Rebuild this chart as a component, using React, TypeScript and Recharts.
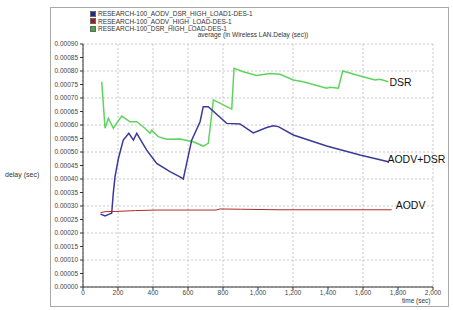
import React from 'react';
import { LineChart, Line, XAxis, YAxis, CartesianGrid, LabelList } from 'recharts';

// DSR (green)
const dsrTime = [107, 126, 145, 173, 221, 269, 307, 354, 383, 393, 430, 478, 554, 630, 687, 716, 745, 850, 863, 916, 992, 1069, 1126, 1202, 1259, 1392, 1411, 1459, 1484, 1564, 1669, 1697, 1745];
const dsrDelay = [0.00076, 0.000588, 0.000625, 0.000588, 0.000633, 0.000612, 0.000612, 0.000588, 0.000569, 0.000581, 0.000557, 0.000547, 0.000548, 0.000538, 0.000522, 0.000532, 0.000693, 0.000659, 0.00081, 0.000797, 0.000783, 0.000791, 0.000788, 0.000767, 0.00076, 0.000736, 0.00074, 0.000736, 0.0008, 0.000785, 0.000767, 0.000769, 0.00076];

// AODV+DSR (blue)
const mixTime = [100, 126, 150, 164, 173, 183, 202, 230, 262, 288, 307, 364, 421, 497, 554, 573, 621, 669, 687, 716, 821, 897, 973, 1050, 1087, 1116, 1202, 1392, 1583, 1745];
const mixDelay = [0.00027, 0.000263, 0.00027, 0.000273, 0.000347, 0.000409, 0.000475, 0.000544, 0.000569, 0.000544, 0.000569, 0.000507, 0.000458, 0.000427, 0.000408, 0.0004, 0.000544, 0.000612, 0.000668, 0.000668, 0.000606, 0.000604, 0.000571, 0.000591, 0.000597, 0.000594, 0.000563, 0.000522, 0.000489, 0.000464];

// AODV (red)
const aodvTime = [100, 126, 200, 300, 421, 600, 760, 783, 900, 1126, 1400, 1764];
const aodvDelay = [0.000275, 0.000279, 0.00028, 0.000283, 0.000285, 0.000285, 0.000285, 0.000289, 0.000288, 0.000286, 0.000286, 0.000286];

const xTicks = [0, 200, 400, 600, 800, 1000, 1200, 1400, 1600, 1800, 2000];
const yTicks = [0, 0.00005, 0.0001, 0.00015, 0.0002, 0.00025, 0.0003, 0.00035, 0.0004, 0.00045, 0.0005, 0.00055, 0.0006, 0.00065, 0.0007, 0.00075, 0.0008, 0.00085, 0.0009];

const legendItems = [
  { name: 'RESEARCH-100_AODV_DSR_HIGH_LOAD1-DES-1', color: '#1f2a8c' },
  { name: 'RESEARCH-100_AODV_HIGH_LOAD-DES-1', color: '#a01c24' },
  { name: 'RESEARCH-100_DSR_HIGH_LOAD-DES-1', color: '#3fae3f' },
];

const zip = (t: number[], v: number[]) => t.map((x, i) => ({ t: x, v: v[i] }));
const dsrData = zip(dsrTime, dsrDelay);
const mixData = zip(mixTime, mixDelay);
const aodvData = zip(aodvTime, aodvDelay);

const endLabel = (text: string, last: number, dx: number, dy: number) => (p: any) => {
  if (p.index !== last) return null;
  return (
    <text x={p.x + dx} y={p.y + dy} fontSize={10.5} fill="#111" fontFamily="Liberation Sans, Arial, sans-serif" dominantBaseline="middle">
      {text}
    </text>
  );
};

export default function App() {
  const tickStyle = { fontSize: 6.5, fill: '#444', fontFamily: 'Liberation Sans, Arial, sans-serif' };
  return (
    <div style={{ position: 'absolute', left: 0, top: 0, width: 453, height: 310, background: '#fff', fontFamily: 'Liberation Sans, Arial, sans-serif' }}>
      <div style={{ position: 'absolute', left: 50, top: 7, width: 399, height: 300, border: '1px solid #a8a8a8', boxSizing: 'border-box' }} />
      <div style={{ position: 'absolute', left: 0, top: 0 }}>
        <LineChart width={453} height={310} margin={{ top: 44, right: 20, bottom: 3, left: 48 }}>
          <CartesianGrid stroke="#c8c8c8" strokeDasharray="2 2" />
          <XAxis
            type="number"
            dataKey="t"
            domain={[0, 2000]}
            ticks={xTicks}
            tickFormatter={(v: number) => v.toLocaleString('en-US')}
            tick={tickStyle}
            tickSize={3}
            tickMargin={0}
            height={20}
            stroke="#333"
            allowDuplicatedCategory={false}
          />
          <XAxis xAxisId="top" orientation="top" type="number" domain={[0, 2000]} tick={false} height={0} stroke="#333" />
          <YAxis
            type="number"
            domain={[0, 0.0009]}
            ticks={yTicks}
            tickFormatter={(v: number) => v.toFixed(5)}
            tick={tickStyle}
            tickSize={3}
            width={35}
            stroke="#333"
          />
          <YAxis yAxisId="right" orientation="right" domain={[0, 0.0009]} tick={false} width={0} stroke="#888" />
          <Line data={dsrData} dataKey="v" type="linear" stroke="#5fd35f" strokeWidth={1.5} dot={false} isAnimationActive={false}>
            <LabelList dataKey="v" content={endLabel('DSR', dsrData.length - 1, 1, 1)} />
          </Line>
          <Line data={mixData} dataKey="v" type="linear" stroke="#3a3a9c" strokeWidth={1.5} dot={false} isAnimationActive={false}>
            <LabelList dataKey="v" content={endLabel('AODV+DSR', mixData.length - 1, -1, -2)} />
          </Line>
          <Line data={aodvData} dataKey="v" type="linear" stroke="#b02a2a" strokeWidth={1} dot={false} isAnimationActive={false}>
            <LabelList dataKey="v" content={endLabel('AODV', aodvData.length - 1, 4, -4)} />
          </Line>
        </LineChart>
      </div>
      <div style={{ position: 'absolute', left: 90, top: 10, fontSize: 6.5, color: '#333', lineHeight: '7.5px' }}>
        {legendItems.map((it) => (
          <div key={it.name} style={{ display: 'flex', alignItems: 'center', whiteSpace: 'nowrap' }}>
            <span style={{ width: 4, height: 4, background: it.color, border: '0.5px solid #666', marginRight: 2, display: 'inline-block' }} />
            {it.name}
          </div>
        ))}
      </div>
      <div style={{ position: 'absolute', left: 188, top: 31, width: 130, fontSize: 6.5, color: '#333', textAlign: 'center', whiteSpace: 'nowrap' }}>
        average (in Wireless LAN.Delay (sec))
      </div>
      <div style={{ position: 'absolute', left: 5, top: 171, fontSize: 7, color: '#333', whiteSpace: 'nowrap' }}>delay (sec)</div>
      <div style={{ position: 'absolute', left: 402, top: 297, fontSize: 6.5, color: '#333', whiteSpace: 'nowrap' }}>time (sec)</div>
    </div>
  );
}
